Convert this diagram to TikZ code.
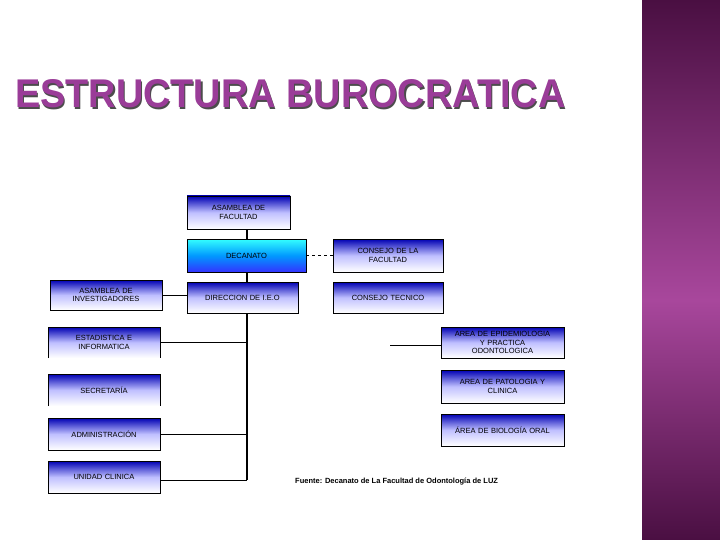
\documentclass[tikz,border=0pt]{standalone}
\usepackage{fontspec}
\setmainfont{Liberation Sans}
\usetikzlibrary{positioning}
\definecolor{ttl}{HTML}{9A3C98}
\definecolor{side1}{HTML}{4A0F42}
\definecolor{side2}{HTML}{A8479C}
\tikzset{
 org/.style={draw=black,line width=0.6pt,top color=blue!70!black,bottom color=white,middle color=blue!25!white,font=\fontsize{7.5}{8.5}\selectfont,align=center,inner sep=0pt,text width=#1},
 openbox/.style={top color=blue!70!black,bottom color=white,middle color=blue!25!white,font=\fontsize{7.5}{8.5}\selectfont,align=center,inner sep=0pt},
 lnk/.style={line width=0.8pt},
 trunk/.style={line width=2.5pt}
}
\begin{document}
\begin{tikzpicture}[x=1pt,y=-1pt]
\useasboundingbox (0,0) rectangle (720,540);
\fill[white] (0,0) rectangle (720,540);
\shade[top color=side1,bottom color=side2] (642,0) rectangle (720,300);
\shade[top color=side2,bottom color=side1] (642,300) rectangle (720,540);
\node[anchor=west,text=black!70,inner sep=0pt] at (16.2,95.2) {\resizebox{550pt}{28pt}{\bfseries ESTRUCTURA BUROCRATICA}};
\node[anchor=west,text=ttl,inner sep=0pt] (title) at (15,94) {\resizebox{550pt}{28pt}{\bfseries ESTRUCTURA BUROCRATICA}};
% boxes
\node[org=103pt,minimum height=33pt] (asf) at (238.5,212.5) {ASAMBLEA DE\\FACULTAD};
\node[org=119pt,minimum height=33pt,top color=cyan!80!white,bottom color=blue!80!white,middle color=cyan!60!blue] (dec) at (246.5,255.5) {DECANATO};
\node[org=110pt,minimum height=33pt] (cdf) at (388,255.5) {CONSEJO DE LA\\FACULTAD};
\node[org=111pt,minimum height=31pt] (dir) at (242.5,297.5) {DIRECCION DE I.E.O};
\node[org=110pt,minimum height=31pt] (ct) at (388,297.5) {CONSEJO TECNICO};
\node[org=112pt,minimum height=30pt] (ai) at (106,295) {ASAMBLEA DE\\INVESTIGADORES};
\node[openbox,text width=112pt,minimum height=31pt] (est) at (104,342.5) {ESTADISTICA E\\INFORMATICA};
\draw[line width=0.6pt] (est.south west) -- (est.north west) -- (est.north east) -- (est.south east);
\node[openbox,text width=112pt,minimum height=32pt] (sec) at (104,390) {SECRETARÍA};
\draw[line width=0.6pt] (sec.south west) -- (sec.north west) -- (sec.north east) -- (sec.south east);
\node[org=112pt,minimum height=32pt] (adm) at (104,434) {ADMINISTRACIÓN};
\node[org=112pt,minimum height=32pt] (uc) at (104,477) {UNIDAD CLINICA};
\node[org=123pt,minimum height=31pt] (epi) at (502.5,342.5) {AREA DE EPIDEMIOLOGIA\\Y PRACTICA\\ODONTOLOGICA};
\node[org=123pt,minimum height=33pt] (pat) at (502.5,386.5) {AREA DE PATOLOGIA Y\\CLINICA};
\node[org=123pt,minimum height=32pt] (bio) at (502.5,430) {ÁREA DE BIOLOGÍA ORAL};
% connectors
\coordinate (tb) at (247,480);
\draw[trunk] (asf.south -| tb) -- (dec.north -| tb);
\draw[trunk] (dec.south -| tb) -- (dir.north -| tb);
\draw[trunk] (dir.south -| tb) -- (tb);
\draw[lnk,dashed] (dec.east) -- (cdf.west);
\draw[lnk] (ai.east) -- (ai.east -| dir.west);
\draw[lnk] (est.east) -- (est.east -| tb);
\draw[lnk] (adm.east) -- (adm.east -| tb);
\draw[lnk] (uc.east |- tb) -- (tb);
\coordinate (fe) at (390,345);
\draw[lnk] (fe) -- (epi.west |- fe);
\node[anchor=west,font=\bfseries\fontsize{7.5}{8.5}\selectfont,inner sep=0pt] (src) at (295,482) {Fuente: Decanato de La Facultad de Odontología de LUZ};
\end{tikzpicture}
\end{document}
